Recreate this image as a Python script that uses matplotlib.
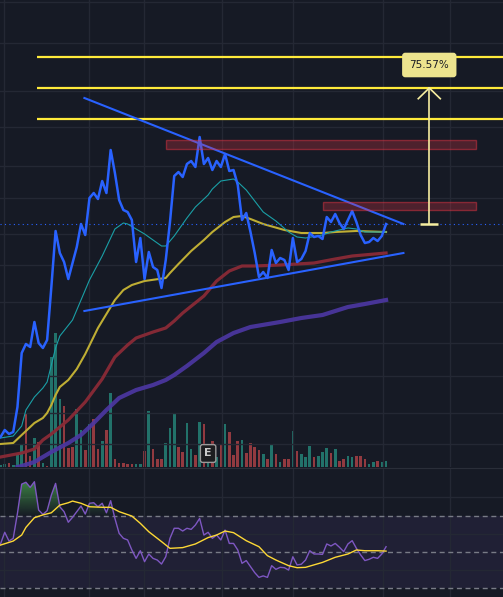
# imports
import numpy as np
import matplotlib
matplotlib.use('Agg')
import matplotlib.pyplot as plt
from matplotlib.colors import LinearSegmentedColormap, to_rgba
from matplotlib.patches import Rectangle
from matplotlib.path import Path


# data
close = [3.0, 3.7, 3.3, 3.5, 6.0, 11.4, 12.3, 12.0, 14.5, 12.4,
         11.9, 12.7, 18.0, 23.6, 21.4, 20.5, 18.8, 20.4, 22.0, 24.3,
         23.2, 26.9, 27.4, 26.8, 28.6, 27.4, 31.7, 29.4, 26.7, 25.7,
         25.5, 24.7, 20.5, 22.9, 18.8, 21.5, 20.0, 19.7, 17.9, 20.7,
         24.5, 29.1, 29.5, 29.0, 30.3, 30.6, 30.0, 33.0, 30.3, 30.9,
         29.7, 30.6, 30.0, 31.3, 29.6, 29.7, 28.2, 24.7, 25.4, 23.5,
         21.4, 19.0, 19.5, 18.9, 21.7, 20.4, 20.9, 20.7, 19.7, 22.9,
         20.5, 20.8, 21.6, 23.4, 23.0, 23.1, 22.8, 25.0, 24.5, 25.3,
         24.4, 23.8, 24.7, 25.6, 24.5, 23.2, 22.4, 22.5, 22.9, 22.6,
         23.1, 24.3]

volume = [2, 3, 4, 2, 13, 22, 53, 11, 29, 25,
          4, 1, 110, 134, 68, 61, 19, 20, 58, 37,
          17, 43, 48, 18, 26, 37, 74, 8, 4, 4,
          3, 3, 3, 3, 16, 56, 18, 8, 8, 24,
          39, 53, 20, 15, 44, 18, 12, 45, 43, 15,
          26, 10, 23, 43, 35, 12, 26, 27, 14, 24,
          20, 17, 13, 8, 22, 13, 5, 8, 8, 36,
          16, 13, 10, 21, 10, 11, 15, 19, 14, 18,
          6, 8, 11, 10, 11, 11, 8, 3, 5, 6,
          5, 6]
# g = up bar, r = down bar
vol_side = ('ggrgggrrgr' 'grgggrrrgg' 'rgrrgrgrrr' 'rrggrgrrrg' 'ggrrggrgrg'
            'rgrgrrrgrr' 'rrgrgrgrrg' 'rgggrgggrg' 'rrggrrrggr' 'gg')

ma_fast_x = [0, 3, 5, 6, 8, 10, 11, 12, 13, 14, 17, 19, 21, 24, 26, 27, 29, 30, 32, 34,
             36, 38, 39, 41, 44, 46, 49, 50, 52, 55, 56, 58, 60, 62, 65, 68, 70, 72, 76, 78,
             82, 84, 86, 91]
ma_fast = [2.9, 3.1, 4.1, 5.7, 7.0, 7.9, 8.5, 10.2, 11.9, 13.1, 14.7, 16.7, 18.7, 21.1,
           22.9, 23.8, 24.4, 24.3, 23.8, 23.3, 22.7, 22.1, 22.1, 23.1, 24.9, 26.0, 27.2,
           27.8, 28.6, 28.8, 28.5, 27.7, 26.6, 25.5, 24.6, 23.5, 23.0, 22.9, 23.2, 23.5,
           23.9, 23.8, 23.5, 23.5]

ma_mid_x = [0, 3, 4, 6, 8, 10, 11, 12, 13, 14, 16, 18, 20, 23, 25, 27, 29, 31, 34, 39,
            40, 42, 45, 48, 50, 53, 55, 57, 59, 62, 67, 71, 76, 79, 84, 91]
ma_mid = [2.3, 2.4, 2.8, 3.6, 4.4, 4.9, 5.4, 6.2, 7.2, 8.0, 8.7, 9.8, 11.3, 13.9, 15.3,
          16.7, 17.7, 18.2, 18.6, 18.9, 19.4, 20.3, 21.6, 22.7, 23.5, 24.5, 25.0, 25.1,
          24.8, 24.3, 23.7, 23.4, 23.4, 23.5, 23.6, 23.5]

ma_slow_x = [0, 5, 8, 10, 12, 16, 20, 24, 27, 30, 32, 36, 39, 41, 43, 48, 51, 54, 57, 60,
             66, 74, 79, 83, 91]
ma_slow = [1.0, 1.4, 1.8, 2.7, 3.3, 4.7, 6.5, 8.8, 11.0, 12.2, 12.9, 13.5, 13.9, 14.6,
           15.4, 17.1, 18.6, 19.6, 20.1, 20.1, 20.2, 20.4, 20.8, 21.1, 21.4]

ma_long_x = [4, 5, 8, 10, 12, 16, 19, 22, 25, 28, 32, 36, 39, 41, 44, 48, 51, 55, 59, 66,
             71, 76, 82, 86, 91]
ma_long = [0.0, 0.1, 0.5, 1.0, 1.5, 2.4, 3.2, 4.4, 5.7, 6.9, 7.7, 8.2, 8.7, 9.2, 10.1,
           11.4, 12.5, 13.4, 14.0, 14.5, 14.9, 15.2, 16.0, 16.3, 16.7]

rsi = [54.4, 60.8, 56.0, 57.5, 71.2, 87.2, 88.2, 85.4, 88.5, 73.0,
       70.6, 72.6, 81.2, 87.6, 74.8, 72.1, 66.3, 69.0, 72.1, 75.2,
       70.8, 76.7, 77.0, 74.8, 76.7, 71.5, 78.1, 68.4, 60.2, 57.5,
       56.6, 51.1, 46.5, 50.7, 44.7, 48.9, 46.5, 45.6, 43.4, 47.4,
       57.5, 63.0, 63.0, 61.5, 63.0, 62.4, 64.8, 68.4, 59.3, 60.8,
       57.5, 59.3, 56.6, 62.0, 54.7, 54.7, 51.1, 43.8, 45.3, 42.0,
       38.7, 36.1, 36.9, 36.1, 42.5, 40.5, 41.6, 41.4, 40.1, 47.4,
       42.9, 43.3, 45.6, 50.7, 48.9, 48.9, 48.7, 54.4, 53.3, 54.7,
       52.6, 50.2, 54.4, 56.2, 52.0, 48.4, 45.3, 46.0, 47.1, 46.5,
       48.9, 52.9]

rsi_ma_x = [0, 3, 5, 6, 8, 10, 12, 14, 16, 17, 19, 21, 24, 26, 28, 31, 33, 35, 38, 40,
            43, 46, 49, 51, 53, 55, 58, 61, 63, 65, 68, 70, 72, 76, 79, 82, 84, 86, 89, 91]
rsi_ma = [53.8, 56.0, 59.3, 63.5, 68.8, 70.3, 71.5, 75.7, 77.0, 77.9, 76.7, 74.8, 74.5,
          74.5, 72.1, 69.7, 65.7, 61.1, 55.7, 52.0, 52.4, 54.4, 57.9, 59.3, 61.5, 60.6,
          56.2, 52.9, 48.0, 45.6, 42.5, 41.4, 41.6, 44.3, 47.1, 48.9, 51.1, 50.7, 50.7,
          50.5]

# drawings
target_levels = [41.0, 37.9, 34.8]
levels_start = 8.5
trend_x = [19.8, 95.1]
trend_top = [36.9, 24.3]
trend_bottom = [15.6, 21.4]
zones = [(39.1, 112.2, 31.8, 32.7), (76.2, 112.2, 25.7, 26.5)]   # x0, x1, y0, y1
measure_x = 101.2
measure_to = 37.9
measure_label = '75.57%'
earnings_x = 49


# params
_bg = '#161a25'
_gridc = '#242834'
_xlim = (-0.12, 118.6)
_vgrid = [0.8, 20.9, 33.9, 52.3, 69.1, 90.3, 106.1]
_hgrid = [46.5, 42.4, 37.6, 34.0, 30.1, 26.9, 23.3, 20.2, 16.5, 12.4, 9.1, 5.4, 2.3]

fig = plt.figure(figsize=(5.03, 5.97), dpi=100, facecolor=_bg)

# main pane
ax = fig.add_axes([0, 130/597, 1, 467/597])
axv = ax.twinx()
ax.set_zorder(axv.get_zorder() + 1)
ax.patch.set_visible(False)
axv.patch.set_visible(True)
axv.patch.set_facecolor(_bg)

x = np.arange(len(close))

## volume
vcol = ['#22726a' if s == 'g' else '#923a40' for s in vol_side]
axv.bar(x, volume, width=0.62, color=vcol, linewidth=0)
axv.set_ylim(0, 467)
axv.set_yticks([])

## grid
ax.set_xticks(_vgrid)
ax.set_yticks(_hgrid)
ax.grid(True, color=_gridc, lw=1)
ax.set_axisbelow(True)
ax.tick_params(length=0, labelleft=False, labelbottom=False,
               labelright=False, right=False)

## moving averages
ax.plot(ma_long_x, ma_long, color='#4d37a4', lw=3.0, alpha=0.9, zorder=2)
ax.plot(ma_slow_x, ma_slow, color='#8a2a36', lw=2.3, alpha=0.95, zorder=2)
ax.plot(ma_mid_x, ma_mid, color='#bfae34', lw=1.5, zorder=2)
ax.plot(ma_fast_x, ma_fast, color='#1a9fa6', lw=0.8, zorder=2)

## last price line
ax.axhline(close[-1], color='#2962ff', lw=0.8, ls=(0, (1, 3)), zorder=2)

## price
ax.plot(x, close, color='#2962ff', lw=1.8, zorder=4)

## target levels
ax.hlines(target_levels, levels_start, _xlim[1], color='#ffeb3b', lw=1.6, zorder=3)

## triangle
ax.plot(trend_x, trend_top, color='#2962ff', lw=1.5, zorder=3)
ax.plot(trend_x, trend_bottom, color='#2962ff', lw=1.5, zorder=3)

## resistance zones
for x0, x1, y0, y1 in zones:
    ax.add_patch(Rectangle((x0, y0), x1 - x0, y1 - y0,
                           facecolor=to_rgba('#f23645', 0.25),
                           edgecolor=to_rgba('#f23645', 0.45),
                           lw=1, zorder=5))

## measure arrow
_mc = '#f7eea0'
ax.plot([measure_x, measure_x], [close[-1], measure_to], color=_mc, lw=1.2, zorder=6)
ax.plot([measure_x - 2.6, measure_x, measure_x + 2.6],
        [measure_to - 1.07, measure_to, measure_to - 1.07],
        color=_mc, lw=1.2, zorder=6)
ax.hlines(close[-1], measure_x - 2.2, measure_x + 2.0, color=_mc, lw=1.8, zorder=6)
ax.text(measure_x, 40.2, measure_label, ha='center', va='center', fontsize=7.5,
        color='#1b1d24', zorder=7,
        bbox=dict(boxstyle='round,pad=0.7,rounding_size=0.3',
                  fc='#ede48e', ec='none'))

## earnings badge
ax.text(earnings_x, 1.35, 'E', ha='center', va='center', fontsize=8,
        fontweight='bold', color='#c9c9c9', zorder=7,
        bbox=dict(boxstyle='round,pad=0.35,rounding_size=0.2',
                  fc='#1c1d20', ec='#9a9a9a', lw=1))

ax.set_xlim(_xlim)
axv.set_xlim(_xlim)
ax.set_ylim(0, 46.7)
for a in (ax, axv):
    for sp in a.spines.values():
        sp.set_visible(False)

# rsi pane
axr = fig.add_axes([0, 0, 1, 129/597], facecolor=_bg)
axr.axhspan(30, 70, color='#7e57c2', alpha=0.1, lw=0, zorder=0)
axr.set_xticks(_vgrid)
axr.set_yticks([40, 60, 80])
axr.grid(True, color=_gridc, lw=1)
axr.set_axisbelow(True)
axr.tick_params(length=0, labelleft=False, labelbottom=False)
for lvl in (70, 50, 30):
    axr.axhline(lvl, color='#787b86', lw=1, ls=(0, (3.6, 2.6)), zorder=1)

## overbought gradient fill
rsi_a = np.array(rsi)
fill = axr.fill_between(x, 70, np.maximum(rsi_a, 70), where=rsi_a > 70,
                        interpolate=True, color='none', lw=0)
clip = Path.make_compound_path(*fill.get_paths())
_gcmap = LinearSegmentedColormap.from_list(
    'ob', [to_rgba('#4caf50', 0.0), to_rgba('#4caf50', 0.7)])
grad = np.linspace(0, 1, 256).reshape(-1, 1)
im = axr.imshow(grad, extent=[x[0], x[-1], 70, 89], origin='lower',
                cmap=_gcmap, aspect='auto', zorder=2)
im.set_clip_path(clip, transform=axr.transData)

axr.plot(x, rsi, color='#7e57c2', lw=1.0, zorder=3)
axr.plot(rsi_ma_x, rsi_ma, color='#fdd835', lw=1.0, zorder=3)

axr.set_xlim(_xlim)
axr.set_ylim(25.34, 96.03)
for k, sp in axr.spines.items():
    sp.set_visible(k == 'top')
axr.spines['top'].set_color('#2a2e39')
axr.spines['top'].set_linewidth(0.8)

fig.savefig('out.png', dpi=100, facecolor=_bg)
